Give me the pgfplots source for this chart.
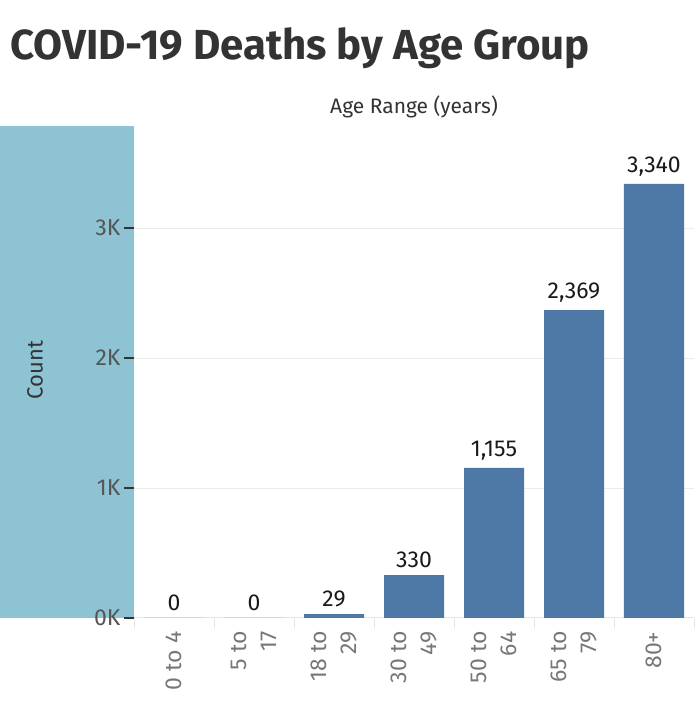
\documentclass[border=0pt]{standalone}
\usepackage{fontspec}
\setmainfont{Fira Sans}
\usepackage{pgfplots}
\pgfplotsset{compat=1.18}
\definecolor{barblue}{HTML}{4E79A7}
\definecolor{panel}{HTML}{8DC3D3}
\definecolor{titlegray}{HTML}{333333}
\definecolor{tickgray}{HTML}{555555}
\definecolor{labgray}{HTML}{777777}

\begin{document}
\begin{tikzpicture}
  % teal band behind the y axis
  \fill[panel] (0,94pt) rectangle (134pt,586pt);
  \begin{axis}[
    scale only axis,
    width=560pt, height=492pt,
    at={(134pt,94pt)}, anchor=south west,
    xmin=-0.5, xmax=6.5,
    ymin=0, ymax=3785,
    ybar, bar width=60pt,
    axis line style={draw=none},
    tick align=outside,
    major tick length=10pt,
    xtick pos=bottom, ytick pos=left,
    xtick={0,...,6},
    xticklabels={0 to 4, {5 to\\17}, {18 to\\29}, {30 to\\49}, {50 to\\64}, {65 to\\79}, 80+},
    xtick style={draw=none},
    xticklabel style={rotate=90, anchor=east, align=right, text=labgray,
      font=\fontsize{23}{30}\selectfont},
    extra x ticks={-0.5,0.5,...,6.5},
    extra x tick labels={},
    extra x tick style={xtick style={draw=black!10, line width=1pt}, grid=none},
    ytick={0,1000,2000,3000},
    yticklabels={0K,1K,2K,3K},
    ytick style={draw=black!80, line width=1.3pt},
    yticklabel style={text=tickgray, font=\fontsize{23}{26}\selectfont},
    ymajorgrids,
    major grid style={draw=black!8, line width=1pt},
    nodes near coords,
    /pgf/number format/1000 sep={,},
    /pgf/number format/assume math mode=true,
    every node near coord/.append style={font=\fontsize{23}{27}\selectfont,
      text=black!90, anchor=south, yshift=4pt},
  ]
    \draw[black!10, line width=1pt] (rel axis cs:0,0) -- (rel axis cs:1,0);
    \addplot[fill=barblue, draw=none] coordinates {
      (0, 0)
      (1, 0)
      (2, 29)
      (3, 330)
      (4, 1155)
      (5, 2369)
      (6, 3340)
    };
  \end{axis}
  \node[anchor=base west, text=titlegray, font=\fontsize{42}{48}\selectfont\bfseries, inner sep=0pt]
    at (10pt,652pt) {COVID-19 Deaths by Age Group};
  \node[text=titlegray, font=\fontsize{21}{26}\selectfont] at (414pt,605pt) {Age Range (years)};
  \node[rotate=90, text=titlegray, font=\fontsize{22}{26}\selectfont] at (35pt,342pt) {Count};
  \pgfresetboundingbox
  \path[use as bounding box] (0,0) rectangle (694pt,712pt);
\end{tikzpicture}
\end{document}
